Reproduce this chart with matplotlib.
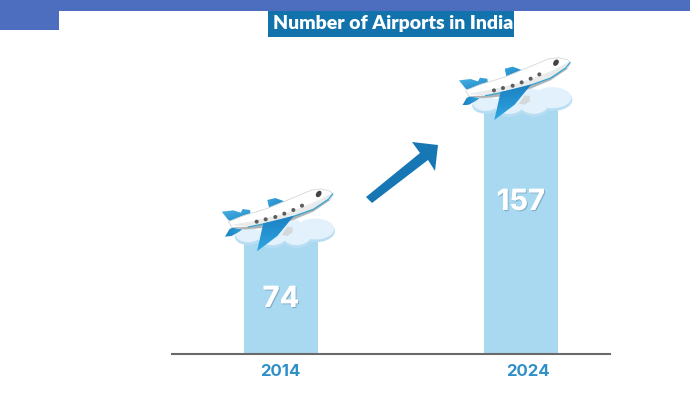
import numpy as np
import matplotlib
matplotlib.use("Agg")
import matplotlib.pyplot as plt
from matplotlib.patches import Polygon, Rectangle, Circle, Ellipse
from matplotlib.colors import LinearSegmentedColormap
from matplotlib.transforms import ScaledTranslation
import matplotlib.patheffects as pe

years = ["2014", "2024"]
airports = [74, 157]
title = "Number of Airports in India"

W, H = 690, 396
fig = plt.figure(figsize=(W / 100, H / 100), dpi=100, facecolor="white")

# Pixel-coordinate layer for the decoration
px = fig.add_axes([0, 0, 1, 1], zorder=1)
px.set_xlim(0, W); px.set_ylim(H, 0); px.axis("off")
px.patch.set_alpha(0)

# Data axes: bars use the library's scale
left, right, top, base = 172, 610, 40, 354
ax = fig.add_axes([left / W, 1 - base / H, (right - left) / W, (base - top) / H], zorder=0)
ax.set_xlim(-0.454, 1.371)
ax.set_ylim(0, (base - top) / 1.57)
ax.bar(range(len(years)), airports, width=0.308, color="#a8d9f0")
for s in ["top", "left", "right"]:
    ax.spines[s].set_visible(False)
ax.spines["bottom"].set_color("#6a6a6a")
ax.spines["bottom"].set_linewidth(1.5)
ax.set_yticks([])
ax.set_xticks(range(len(years)), years)
ax.tick_params(axis="x", length=0, pad=7)
tick_shift = [-0.01, 0.07]
for t, sh in zip(ax.get_xticklabels(), tick_shift):
    t.set(fontfamily="Inter", fontweight="bold", fontsize=12, color="#2f8fc6")
    t.set_transform(t.get_transform() + ScaledTranslation(sh, 0, fig.dpi_scale_trans))

# Header
px.add_patch(Rectangle((0, 0), W, 11, color="#4d6dbf", lw=0))
px.add_patch(Rectangle((0, 0), 59, 30, color="#4d6dbf", lw=0))
px.add_patch(Rectangle((268, 11), 246, 26, color="#1272ab", lw=0))
px.text(393, 23, title, ha="center", va="center", color="white",
        fontfamily="Lato", fontweight="heavy", fontsize=14)

# Value labels
shadow = [pe.withSimplePatchShadow(offset=(0.8, -0.8), shadow_rgbFace="#6f9db8", alpha=0.7), pe.Normal()]
for xp, yp, v in zip([281, 521], [299.5, 202.5], airports):
    px.text(xp, yp, str(v), ha="center", va="center", color="white", fontfamily="Inter",
            fontweight="bold", fontsize=21, path_effects=shadow)

# Arrow between bars
px.add_patch(Polygon([(366, 197), (372, 203), (428, 160), (435, 171), (438, 145), (412, 142), (420, 153)],
                     closed=True, color="#1777b4", lw=0))


def gradient(shape, colors, angle=90, z=5):
    """Fill a polygon with a linear gradient."""
    shape.set_facecolor("none"); shape.set_edgecolor("none"); px.add_patch(shape)
    v = shape.get_xy()
    cmap = LinearSegmentedColormap.from_list("g", colors)
    g = np.linspace(0, 1, 96)
    a = np.radians(angle)
    xx, yy = np.meshgrid(g, g)
    im = px.imshow(np.cos(a) * xx + np.sin(a) * yy, cmap=cmap,
                   extent=[v[:, 0].min(), v[:, 0].max(), v[:, 1].max(), v[:, 1].min()],
                   aspect="auto", zorder=z, interpolation="bilinear")
    im.set_clip_path(shape)
    px.set_xlim(0, W); px.set_ylim(H, 0)


def plane(dx, dy):
    def T(pts):
        return [(200 + x / 3 + dx, 170 + y / 3 + dy) for x, y in pts]

    def P(x, y):
        return T([(x, y)])[0]

    # Cloud
    lobes = [(145, 198, 80, 48), (215, 200, 95, 62), (290, 195, 95, 72), (345, 180, 120, 68), (255, 175, 120, 60)]
    for (x, y, w, h) in lobes:
        cx, cy = P(x, y)
        px.add_patch(Ellipse((cx, cy + 1), w / 3, h / 3, color="#b9def3", lw=0, zorder=3))
    for (x, y, w, h) in lobes:
        cx, cy = P(x, y - 3)
        px.add_patch(Ellipse((cx, cy), (w - 5) / 3, (h - 5) / 3, color="#e2f1fb", lw=0, zorder=3.5))

    # Engine
    px.add_patch(Polygon(T([(245, 195), (262, 170), (278, 172), (277, 188), (262, 198)]), color="#d5d8da", lw=0, zorder=4))
    # Tail fins and upper wing
    gradient(Polygon(T([(65, 125), (100, 121), (122, 128), (128, 117), (150, 120), (152, 135), (130, 145), (100, 158), (85, 150)])),
             ["#4db4e6", "#1a83c4"], 60, 4)
    gradient(Polygon(T([(202, 90), (226, 84), (256, 95), (208, 116)])), ["#3aa6dd", "#1a83c4"], 45, 4)
    gradient(Polygon(T([(75, 200), (88, 178), (105, 168), (142, 165), (118, 185), (95, 198)])), ["#1a83c4", "#3aa6dd"], 0, 4)
    # Fuselage: white body with an outline, shaded band and grey belly
    body = T([(85, 155), (130, 137), (200, 116), (280, 83), (335, 60), (365, 57), (390, 63), (399, 72), (390, 90),
              (340, 124), (280, 149), (200, 172), (135, 178), (95, 172)])
    px.add_patch(Polygon(body, facecolor="#ffffff", edgecolor="#d4d7d9", lw=0.6, zorder=5))
    px.add_patch(Polygon(T([(92, 165), (150, 155), (250, 132), (340, 98), (395, 70), (398, 72), (385, 88), (340, 118), (250, 150), (145, 171)]),
                         color="#e9ebec", lw=0, zorder=5.1))
    px.add_patch(Polygon(T([(95, 172), (145, 171), (250, 150), (340, 118), (385, 88), (390, 90), (340, 124), (280, 149), (200, 172), (135, 178)]),
                         color="#aeb2b5", lw=0, zorder=5.2))
    # Cheat line
    px.plot(*zip(*T([(145, 171), (250, 150), (340, 118), (385, 88), (398, 72)])), color="#35a7cf", lw=0.9, zorder=6)
    # Windows
    for x, y in [(170, 155), (197, 148), (226, 141), (253, 131), (280, 120), (306, 107)]:
        px.add_patch(Circle(P(x, y), 2.0, color="#5d5d5d", lw=0, zorder=6))
    px.add_patch(Ellipse(P(356, 72), 5, 7, angle=35, color="#444444", lw=0, zorder=6))
    # Main wing
    gradient(Polygon(T([(282, 137), (190, 160), (171, 244), (232, 198)])), ["#1a7fc0", "#2fa7e3"], 90, 7)


plane(0, 0)
plane(237.3, -131.3)
fig.savefig("out.png", dpi=100, facecolor="white")
